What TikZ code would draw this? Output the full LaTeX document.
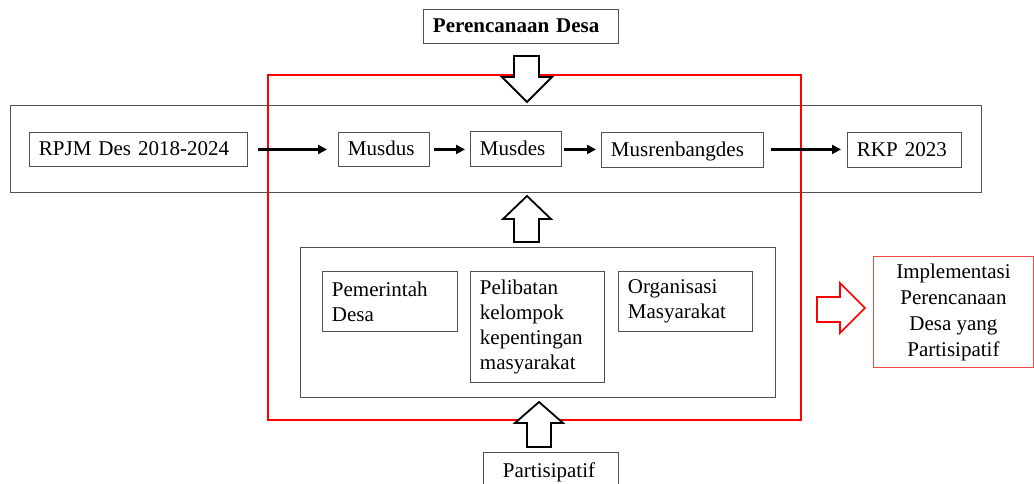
\documentclass[tikz,border=0pt]{standalone}
\usepackage{fontspec}
\setmainfont{Liberation Serif}
\usetikzlibrary{arrows.meta}
\definecolor{boxgray}{HTML}{505050}
\definecolor{softred}{HTML}{F04848}
\begin{document}
\begin{tikzpicture}[x=1pt,y=-1pt,
  every node/.style={font=\fontsize{21}{25}\selectfont},
  frame/.style={draw=boxgray,line width=0.9pt},
  lbox/.style={frame,anchor=north west,inner xsep=9.5pt,inner ysep=0pt,align=left},
  single/.style={text height=16pt,text depth=3pt},
  flow/.style={line width=2.4pt,-{Triangle[length=9pt,width=9pt]}},
  block/.style={draw=black,line width=1.8pt,fill=white,line join=miter},
]
\useasboundingbox (0,0) rectangle (1034,484);
\clip (0,0) rectangle (1034,484);

% wide gray band
\draw[frame] (10,105) rectangle (981,192);
% red frame
\draw[red,line width=2pt] (268,75) rectangle (801,420);
% inner box
\draw[frame] (300,247) rectangle (775,397);

% top title
\node[lbox,single,font=\fontsize{21}{24}\selectfont\bfseries,text width=176pt,minimum height=34pt] (pd) at (423,9) {Perencanaan Desa};

% flow boxes
\node[lbox,single,text width=199pt,minimum height=34pt] (rpjm) at (29,132) {RPJM Des 2018-2024};
\node[lbox,single,text width=72pt,minimum height=34pt] (musdus) at (338,132) {Musdus};
\node[lbox,single,text width=72pt,minimum height=35pt] (musdes) at (470,131.5) {Musdes};
\node[lbox,single,text width=143pt,minimum height=35pt] (musren) at (601,132) {Musrenbangdes};
\node[lbox,single,text width=95pt,minimum height=35pt] (rkp) at (847,132) {RKP 2023};

\draw[flow,shorten <=10pt,shorten >=11pt] (rpjm.east) -- (musdus.west |- rpjm.east);
\draw[flow,shorten <=4pt,shorten >=5pt] (musdus.east) -- (musdes.west |- musdus.east);
\draw[flow,shorten <=2pt,shorten >=5pt] (musdes.east |- musdus.east) -- (musren.west |- musdus.east);
\draw[flow,shorten <=7pt,shorten >=6pt] (musren.east |- musdus.east) -- (rkp.west |- musdus.east);

% stakeholder boxes
\node[lbox,text width=116pt,minimum height=60pt] (pem) at (322,271) {Pemerintah\\Desa};
\node[lbox,text width=115pt,minimum height=111pt] (pel) at (470,271) {Pelibatan\\kelompok\\kepentingan\\masyarakat};
\node[lbox,text width=115pt,minimum height=60pt] (org) at (618,271) {Organisasi\\Masyarakat};

% bottom label
\node[lbox,single,text width=116pt,minimum height=38pt] (par) at (483,452) {\hspace*{10pt}Partisipatif};

% outcome box
\node[draw=softred,line width=0.9pt,anchor=north west,minimum width=160pt,minimum height=111pt,
      align=center,inner sep=0pt,font=\fontsize{21}{26}\selectfont] (impl) at (873,256)
  {Implementasi\\Perencanaan\\Desa yang\\Partisipatif};

% block arrows
\draw[block] (514,56) -- (539,56) -- (539,77) -- (552,77) -- (527,102) -- (502,77) -- (514,77) -- cycle;
\draw[block] (514,242) -- (539,242) -- (539,219) -- (551,219) -- (527,196) -- (503,219) -- (514,219) -- cycle;
\draw[block] (527,447) -- (551,447) -- (551,423) -- (563,423) -- (539,402) -- (515,423) -- (527,423) -- cycle;
\draw[draw=red,line width=1.6pt,fill=white] (817,297) -- (840,297) -- (840,283) -- (865,308) -- (840,333) -- (840,322) -- (817,322) -- cycle;
\end{tikzpicture}
\end{document}
